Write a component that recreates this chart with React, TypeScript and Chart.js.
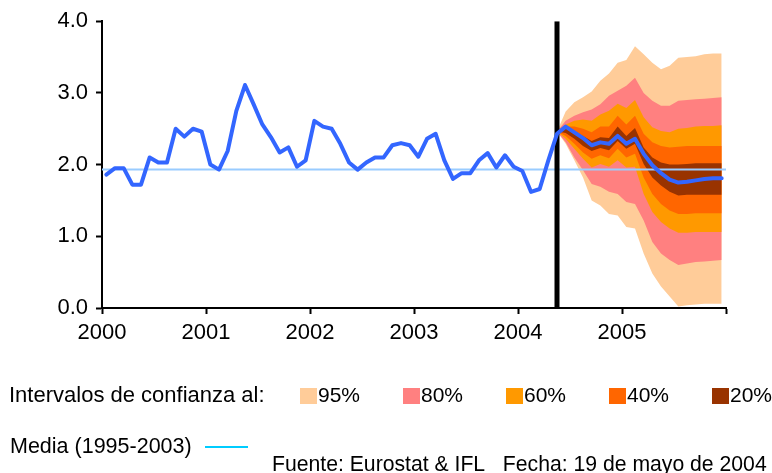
import React, { useEffect, useRef } from "react";
import Chart from "chart.js/auto";

// Monthly inflation series Jan 2000 .. Dec 2005 (observed + central forecast)
const mainSeries: number[] = [
  1.86, 1.95, 1.95, 1.72, 1.72, 2.10, 2.03, 2.03, 2.50, 2.39, 2.50, 2.46,
  2.00, 1.93, 2.19, 2.75, 3.11, 2.84, 2.56, 2.38, 2.17, 2.24, 1.97, 2.06,
  2.61, 2.53, 2.50, 2.29, 2.03, 1.93, 2.03, 2.10, 2.10, 2.27, 2.30, 2.27,
  2.11, 2.36, 2.43, 2.06, 1.80, 1.88, 1.88, 2.06, 2.16, 1.96, 2.13, 1.97,
  1.91, 1.62, 1.66, 2.06, 2.43, 2.53, 2.45, 2.37, 2.27, 2.31, 2.29, 2.40,
  2.29, 2.36, 2.15, 1.99, 1.88, 1.79, 1.75, 1.76, 1.78, 1.80, 1.81, 1.81,
];

const startYear = 2000;
const forecastStart = 52; // month index (May 2004)
const meanValue = 1.93; // Media (1995-2003)

// Fan chart bounds, months forecastStart .. 71
const upper95 = [2.46, 2.74, 2.87, 2.94, 3.02, 3.17, 3.27, 3.42, 3.46, 3.65, 3.54, 3.42, 3.33, 3.38, 3.49, 3.50, 3.51, 3.54, 3.55, 3.55];
const upper80 = [2.46, 2.61, 2.68, 2.73, 2.77, 2.84, 2.96, 3.03, 3.10, 3.21, 3.00, 2.89, 2.82, 2.82, 2.89, 2.90, 2.91, 2.92, 2.93, 2.94];
const upper60 = [2.46, 2.56, 2.61, 2.63, 2.61, 2.70, 2.75, 2.85, 2.79, 2.90, 2.66, 2.52, 2.47, 2.45, 2.50, 2.51, 2.53, 2.54, 2.54, 2.55];
const upper40 = [2.46, 2.53, 2.53, 2.50, 2.45, 2.53, 2.53, 2.68, 2.56, 2.68, 2.43, 2.31, 2.26, 2.24, 2.25, 2.26, 2.26, 2.26, 2.26, 2.26];
const upper20 = [2.46, 2.51, 2.47, 2.40, 2.33, 2.38, 2.37, 2.53, 2.40, 2.51, 2.24, 2.10, 2.03, 2.00, 2.00, 2.01, 2.02, 2.02, 2.02, 2.02];
const lower20 = [2.46, 2.44, 2.36, 2.26, 2.19, 2.23, 2.20, 2.33, 2.22, 2.29, 2.01, 1.82, 1.71, 1.62, 1.57, 1.58, 1.58, 1.58, 1.58, 1.58];
const lower40 = [2.46, 2.40, 2.29, 2.17, 2.08, 2.13, 2.09, 2.22, 2.10, 2.15, 1.82, 1.59, 1.45, 1.36, 1.31, 1.31, 1.32, 1.32, 1.32, 1.32];
const lower60 = [2.46, 2.36, 2.22, 2.08, 1.96, 2.01, 1.97, 2.06, 1.96, 1.97, 1.59, 1.34, 1.20, 1.11, 1.05, 1.05, 1.06, 1.06, 1.06, 1.06];
const lower80 = [2.46, 2.31, 2.10, 1.92, 1.73, 1.69, 1.62, 1.59, 1.48, 1.45, 1.22, 0.92, 0.76, 0.67, 0.60, 0.62, 0.64, 0.65, 0.66, 0.67];
const lower95 = [2.46, 2.29, 2.06, 1.82, 1.50, 1.43, 1.31, 1.29, 1.13, 1.11, 0.76, 0.48, 0.30, 0.16, 0.02, 0.04, 0.05, 0.06, 0.06, 0.06];

const bandLabels = ["95%", "80%", "60%", "40%", "20%"];
const bandColors = ["#FFCC99", "#FF8080", "#FF9900", "#FF6600", "#993300"];

const yTicks = [0, 1, 2, 3, 4];
const xTickYears = [2000, 2001, 2002, 2003, 2004, 2005, 2006];

const FONT = '"Liberation Sans", Arial, sans-serif';
const FS = 22;

const toPts = (arr: number[], offset: number) => arr.map((v, k) => ({ x: offset + k + 0.5, y: v }));

const legendPlugin = {
  id: "bottomLegend",
  afterDraw(chart: any) {
    const ctx = chart.ctx;
    ctx.save();
    ctx.font = `${FS}px ${FONT}`;
    ctx.fillStyle = "#000";
    ctx.textBaseline = "middle";
    ctx.textAlign = "left";
    const rowY = 396;
    ctx.fillText("Intervalos de confianza al:", 9, rowY);
    const startX = 300;
    const step = 103;
    ctx.font = `21px ${FONT}`;
    bandLabels.forEach((lab, i) => {
      const x = startX + i * step;
      ctx.fillStyle = bandColors[i];
      ctx.fillRect(x, rowY - 8, 17, 16);
      ctx.fillStyle = "#000";
      ctx.fillText(lab, x + 18, rowY);
    });
    ctx.font = `21.5px ${FONT}`;
    const row2 = 447;
    ctx.fillText("Media (1995-2003)", 10, row2);
    ctx.strokeStyle = "#00CCFF";
    ctx.lineWidth = 2;
    ctx.beginPath();
    ctx.moveTo(205, row2);
    ctx.lineTo(248, row2);
    ctx.stroke();
    ctx.font = `21.2px ${FONT}`;
    ctx.fillText("Fuente: Eurostat & IFL   Fecha: 19 de mayo de 2004", 272, 465);
    ctx.restore();
  },
};

export default function App() {
  const ref = useRef<HTMLCanvasElement | null>(null);
  useEffect(() => {
    if (!ref.current) return;
    const mainData = mainSeries.map((v, i) => ({ x: i + 0.5, y: v }));
    const maxX = (xTickYears[xTickYears.length - 1] - startYear) * 12;
    const band = (data: number[], color: string | null) => ({
      data: toPts(data, forecastStart),
      borderWidth: 0,
      borderColor: "rgba(0,0,0,0)",
      backgroundColor: color || "rgba(0,0,0,0)",
      fill: color ? "+1" : false,
      pointRadius: 0,
      tension: 0,
    });
    const chart = new Chart(ref.current, {
      type: "line",
      data: {
        datasets: [
          {
            data: mainData,
            borderColor: "#3366FF",
            borderWidth: 4,
            pointRadius: 0,
            fill: false,
            tension: 0,
            borderJoinStyle: "round",
            borderCapStyle: "round",
          } as any,
          {
            data: [
              { x: forecastStart + 0.5, y: yTicks[0] },
              { x: forecastStart + 0.5, y: yTicks[yTicks.length - 1] },
            ],
            borderColor: "#000",
            borderWidth: 5,
            pointRadius: 0,
            fill: false,
          },
          {
            data: [
              { x: 0, y: meanValue },
              { x: maxX, y: meanValue },
            ],
            borderColor: "#99CCFF",
            borderWidth: 2,
            pointRadius: 0,
            fill: false,
          },
          band(upper20, bandColors[4]),
          band(lower20, null),
          band(upper40, bandColors[3]),
          band(lower40, null),
          band(upper60, bandColors[2]),
          band(lower60, null),
          band(upper80, bandColors[1]),
          band(lower80, null),
          band(upper95, bandColors[0]),
          band(lower95, null),
        ] as any,
      },
      options: {
        animation: false,
        responsive: false,
        layout: { padding: { left: 0, top: 20, right: 46, bottom: 0 } },
        plugins: { legend: { display: false }, tooltip: { enabled: false } },
        scales: {
          x: {
            type: "linear",
            min: 0,
            max: maxX,
            afterFit: (s: any) => {
              s.height = 165;
            },
            ticks: {
              stepSize: 12,
              autoSkip: false,
              maxRotation: 0,
              padding: 6,
              color: "#000",
              font: { family: FONT, size: FS },
              callback: (v: any) => (v < maxX ? String(startYear + v / 12) : ""),
            },
            grid: { drawOnChartArea: false, tickLength: 6, tickColor: "#000", tickWidth: 2 },
            border: { color: "#000", width: 2 },
          },
          y: {
            min: yTicks[0],
            max: yTicks[yTicks.length - 1],
            afterFit: (s: any) => {
              s.width = 102;
            },
            ticks: {
              stepSize: 1,
              padding: 8,
              color: "#000",
              font: { family: FONT, size: FS },
              callback: (v: any) => Number(v).toFixed(1),
            },
            grid: { drawOnChartArea: false, tickLength: 6, tickColor: "#000", tickWidth: 2 },
            border: { color: "#000", width: 2 },
          },
        },
      } as any,
      plugins: [legendPlugin],
    });
    return () => chart.destroy();
  }, []);
  return (
    <div style={{ position: "absolute", left: 0, top: 0, width: 772, height: 473, background: "#fff" }}>
      <canvas ref={ref} width={772} height={473} style={{ display: "block" }} />
    </div>
  );
}
